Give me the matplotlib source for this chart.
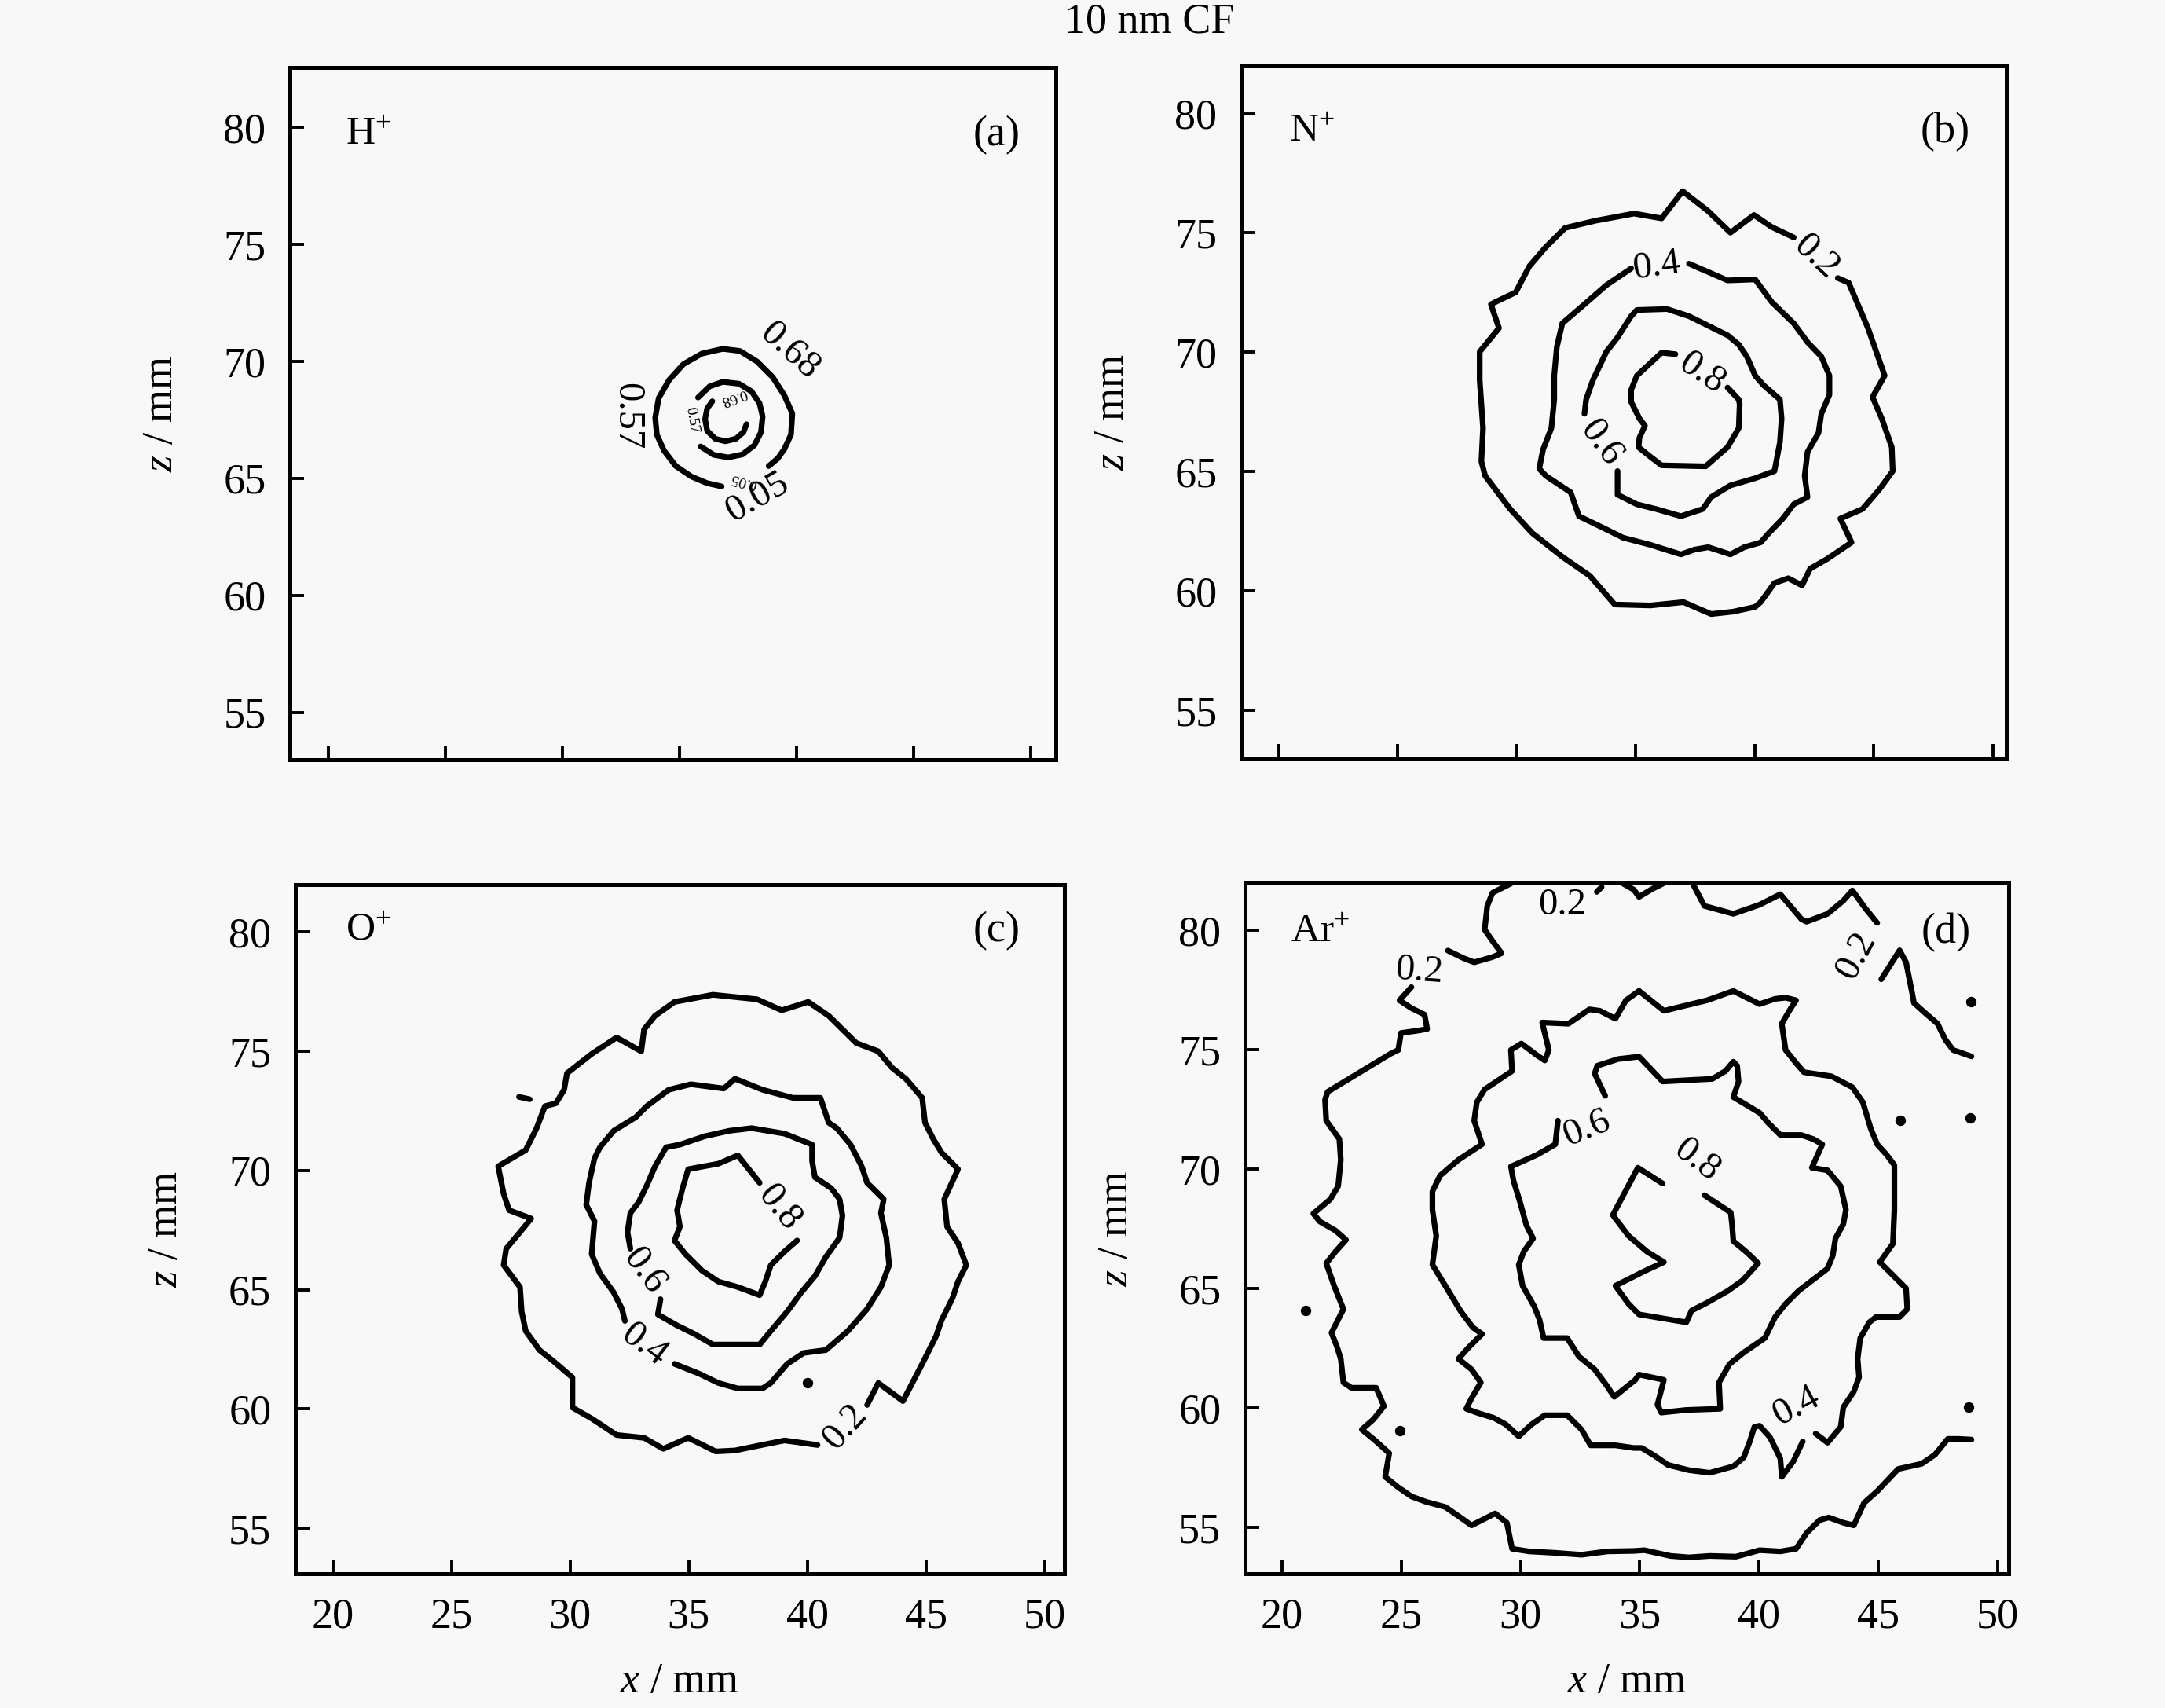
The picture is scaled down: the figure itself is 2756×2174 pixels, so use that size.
"""
10 nm CF ion distribution contours: H+, N+, O+, Ar+
Contour traces digitised from the original figure (x, z in mm).
"""
import matplotlib
matplotlib.use("Agg")
import matplotlib.pyplot as plt
import numpy as np

plt.rcParams.update({
    "font.family": ["Liberation Serif", "DejaVu Serif"],
    "mathtext.fontset": "custom",
    "mathtext.rm": "Liberation Serif",
    "mathtext.it": "Liberation Serif:italic",
    "font.size": 19.5,
    "axes.linewidth": 1.8,
    "figure.facecolor": "#f8f8f8",
    "axes.facecolor": "#f8f8f8",
})

X_TICKS = [20, 25, 30, 35, 40, 45, 50]
Z_TICKS = [55, 60, 65, 70, 75, 80]

# ---------------- (a) H+ ----------------
H_057 = [(36.81, 64.65), (36.19, 64.79), (35.52, 65.07), (34.85, 65.52), (34.34, 66.19),
         (34.04, 66.86), (33.97, 67.59), (34.12, 68.43), (34.57, 69.21), (35.18, 69.88),
         (35.97, 70.33), (36.86, 70.53), (37.59, 70.44), (38.32, 69.99), (38.99, 69.32),
         (39.49, 68.54), (39.83, 67.76), (39.77, 66.86), (39.49, 66.25), (39.21, 65.85),
         (38.82, 65.52)]
H_068 = [(35.80, 68.45), (36.30, 68.93), (36.86, 69.12), (37.55, 69.04), (38.09, 68.71),
         (38.43, 68.20), (38.56, 67.64), (38.49, 66.97), (38.21, 66.41), (37.70, 66.02),
         (37.09, 65.89), (36.47, 66.00), (35.91, 66.36)]
H_INNER = [(36.41, 68.29), (36.19, 67.98), (36.10, 67.53), (36.19, 67.03), (36.53, 66.69),
           (36.97, 66.58), (37.42, 66.69), (37.74, 66.97), (37.87, 67.31)]
H_LABELS = [("0.57", 32.78, 67.64, -90, 17.5), ("0.68", 39.72, 70.44, -42, 17.5),
            ("0.05", 38.32, 64.18, 30, 17.5), ("0.05", 37.76, 64.90, 165, 7),
            ("0.68", 37.31, 68.48, -160, 7), ("0.57", 35.52, 67.48, -80, 7)]

# ---------------- (b) N+ ----------------
N_02 = [(43.48, 73.11), (43.94, 72.91), (44.75, 71.01), (45.45, 69.02), (44.94, 68.12),
        (45.33, 67.22), (45.75, 66.02), (45.79, 65.02), (45.21, 64.23), (44.52, 63.43),
        (43.59, 63.03), (44.06, 62.03), (43.02, 61.33), (42.32, 60.93), (41.98, 60.23),
        (41.40, 60.53), (40.82, 60.33), (40.24, 59.53), (40.01, 59.33), (39.08, 59.13),
        (38.16, 59.03), (37.46, 59.33), (37.00, 59.53), (35.61, 59.39), (34.11, 59.43),
        (33.07, 60.63), (31.91, 61.43), (30.64, 62.43), (29.72, 63.43), (28.67, 64.82),
        (28.51, 65.42), (28.58, 66.82), (28.44, 68.82), (28.44, 70.02), (29.25, 71.01),
        (28.91, 72.01), (29.95, 72.51), (30.53, 73.61), (31.22, 74.41), (32.03, 75.21),
        (33.30, 75.51), (34.92, 75.81), (36.08, 75.61), (36.96, 76.75), (38.04, 75.91),
        (38.97, 75.01), (39.96, 75.75), (40.70, 75.25), (41.63, 74.81)]
N_04 = [(37.23, 73.71), (38.85, 73.01), (40.01, 73.05), (40.70, 72.11), (41.63, 71.21),
        (42.21, 70.42), (42.79, 69.82), (43.13, 69.02), (43.13, 68.22), (42.79, 67.42),
        (42.67, 66.62), (42.21, 65.82), (42.09, 64.82), (42.21, 63.93), (41.63, 63.63),
        (41.17, 63.03), (40.59, 62.43), (40.24, 62.03), (39.55, 61.83), (38.97, 61.53),
        (38.04, 61.83), (37.46, 61.73), (36.89, 61.53), (35.61, 61.93), (34.46, 62.23),
        (33.65, 62.63), (32.61, 63.13), (32.26, 64.13), (31.22, 64.82), (30.94, 65.12),
        (31.10, 65.92), (31.45, 66.82), (31.57, 68.02), (31.57, 69.02), (31.68, 70.22),
        (31.91, 71.21), (32.84, 72.01), (33.76, 72.81), (34.80, 73.51)]
N_06 = [(32.84, 67.42), (32.91, 68.02), (33.19, 68.82), (33.76, 70.02), (34.23, 70.62),
        (34.80, 71.51), (35.04, 71.77), (36.31, 71.81), (37.23, 71.51), (38.04, 71.11),
        (38.85, 70.71), (39.32, 70.32), (39.66, 69.82), (40.01, 69.02), (40.36, 68.62),
        (41.05, 68.02), (41.12, 67.22), (41.05, 66.22), (40.82, 65.02), (40.01, 64.72),
        (38.97, 64.42), (38.16, 63.93), (37.81, 63.43), (36.89, 63.13), (35.85, 63.43),
        (35.04, 63.63), (34.23, 64.03), (34.23, 65.02)]
N_08 = [(36.66, 69.92), (36.08, 69.98), (35.04, 69.02), (34.80, 68.42), (34.80, 67.92),
        (35.15, 67.22), (35.38, 66.92), (35.15, 66.42), (35.11, 66.02), (35.61, 65.62),
        (36.08, 65.26), (37.93, 65.22), (38.16, 65.42), (38.85, 66.02), (39.32, 66.82),
        (39.36, 67.82), (39.32, 68.02), (38.85, 68.52)]
N_LABELS = [("0.2", 42.55, 74.01, -43, 17.5), ("0.4", 35.85, 73.61, 8, 17.5),
            ("0.6", 33.53, 66.22, -54, 17.5), ("0.8", 37.77, 69.12, -34, 17.5)]

# ---------------- (c) O+ ----------------
O_02 = [(42.52, 60.17), (42.99, 61.09), (44.03, 60.33), (44.84, 61.89), (45.42, 63.04),
        (45.66, 63.73), (46.12, 64.65), (46.35, 65.34), (46.70, 66.03), (46.35, 66.95),
        (45.89, 67.64), (45.77, 68.79), (46.35, 70.05), (45.66, 70.74), (45.31, 71.31),
        (44.96, 72.00), (44.84, 73.04), (44.15, 73.84), (43.57, 74.30), (42.99, 74.99),
        (42.06, 75.34), (40.90, 76.48), (40.04, 77.06), (38.92, 76.71), (37.88, 77.17),
        (36.02, 77.36), (34.40, 77.06), (33.58, 76.48), (33.12, 75.91), (33.00, 74.99),
        (31.96, 75.57), (30.91, 74.88), (29.87, 74.07), (29.75, 73.38), (29.40, 72.81),
        (28.94, 72.69), (28.59, 71.77), (28.13, 70.85), (26.97, 70.17), (27.20, 69.02),
        (27.43, 68.33), (28.36, 67.98), (27.89, 67.41), (27.31, 66.72), (27.20, 66.03),
        (27.89, 65.11), (27.96, 64.08), (28.13, 63.27), (28.71, 62.47), (29.29, 62.01),
        (30.10, 61.32), (30.10, 60.06), (30.91, 59.60), (31.96, 58.91), (33.12, 58.79),
        (33.93, 58.33), (34.98, 58.79), (36.14, 58.22), (36.95, 58.26), (37.88, 58.45),
        (39.04, 58.68), (40.43, 58.49)]
O_04 = [(34.40, 61.89), (35.44, 61.48), (36.25, 61.09), (37.07, 60.86), (38.11, 60.86),
        (38.46, 61.09), (39.15, 61.89), (39.85, 62.35), (40.78, 62.47), (41.71, 63.27),
        (42.52, 64.19), (43.10, 65.11), (43.45, 66.03), (43.33, 67.18), (43.10, 68.21),
        (43.22, 68.79), (42.52, 69.48), (42.29, 70.17), (41.82, 71.08), (41.24, 71.77),
        (40.90, 72.00), (40.55, 73.04), (39.39, 73.04), (38.11, 73.38), (36.95, 73.84),
        (36.48, 73.43), (35.09, 73.61), (34.16, 73.38), (33.23, 72.69), (32.77, 72.23),
        (31.84, 71.66), (31.26, 70.97), (31.03, 70.51), (30.80, 69.48), (30.68, 68.56),
        (31.03, 67.87), (30.91, 66.49), (31.26, 65.68), (31.84, 64.88), (32.19, 64.19),
        (32.31, 63.69)]
O_06 = [(33.81, 64.60), (33.70, 63.96), (34.51, 63.50), (35.21, 63.16), (36.02, 62.70),
        (37.07, 62.70), (37.99, 62.70), (38.46, 63.27), (39.15, 64.08), (39.74, 64.88),
        (40.32, 65.57), (40.78, 66.37), (41.36, 67.18), (41.48, 68.10), (41.36, 68.79),
        (41.01, 69.25), (40.32, 69.71), (40.20, 70.40), (40.20, 71.08), (39.04, 71.54),
        (37.65, 71.77), (36.72, 71.66), (35.67, 71.43), (34.63, 71.08), (34.05, 70.97),
        (33.58, 70.17), (33.23, 69.36), (32.89, 68.67), (32.54, 68.21), (32.42, 67.41),
        (32.54, 66.72)]
O_08 = [(37.99, 69.48), (37.07, 70.63), (36.25, 70.28), (34.98, 70.05), (34.74, 69.25),
        (34.51, 68.33), (34.63, 67.64), (34.40, 67.06), (34.86, 66.49), (35.56, 65.80),
        (36.25, 65.34), (37.07, 65.11), (37.99, 64.77), (38.23, 65.34), (38.46, 66.03),
        (39.04, 66.60), (39.57, 67.06)]
O_BLOB = [(27.85, 73.08), (28.30, 72.98)]
O_DOTS = [(40.01, 61.09)]
O_LABELS = [("0.8", 38.81, 68.44, -51, 17.5), ("0.6", 33.12, 65.80, -54, 17.5),
            ("0.4", 33.12, 62.70, -37, 17.5), ("0.2", 41.59, 59.25, 48, 17.5)]

# ---------------- (d) Ar+ ----------------
AR_02_A = [(29.60, 81.95), (28.83, 81.56), (28.61, 81.01), (28.50, 80.02), (28.88, 79.47),
           (29.21, 79.03), (28.83, 78.87), (28.06, 78.65), (27.62, 78.82), (26.96, 79.14)]
AR_02_B = [(25.43, 77.61), (24.93, 77.06), (25.43, 76.73), (25.98, 76.46), (26.09, 75.86),
           (25.76, 75.80), (24.99, 75.69), (24.88, 74.98), (24.55, 74.82), (21.92, 73.23),
           (21.81, 72.90), (21.86, 72.02), (22.41, 71.25), (22.47, 70.38), (22.36, 69.28),
           (22.03, 68.73), (21.32, 68.13), (21.59, 67.80), (22.25, 67.42), (22.69, 67.03),
           (22.25, 66.54), (21.86, 66.05), (22.19, 65.11), (22.58, 64.13), (22.08, 63.14),
           (22.30, 62.59), (22.47, 62.05), (22.58, 61.06), (22.91, 60.84), (23.95, 60.84),
           (24.28, 60.07), (23.84, 59.52), (23.35, 59.09), (23.89, 58.65), (24.50, 58.10),
           (24.33, 57.11), (24.88, 56.67), (25.43, 56.29), (26.03, 56.07), (26.85, 55.85),
           (27.40, 55.47), (27.95, 55.08), (28.94, 55.58), (29.43, 55.19), (29.65, 54.10),
           (30.36, 53.99), (31.46, 53.93), (32.56, 53.85), (33.65, 53.99), (34.75, 54.01),
           (35.19, 54.04), (36.29, 53.80), (37.06, 53.74), (37.93, 53.80), (39.03, 53.77),
           (40.02, 54.04), (40.89, 53.99), (41.55, 54.10), (41.99, 54.76), (42.54, 55.30),
           (42.92, 55.41), (43.53, 55.19), (43.97, 55.08), (44.40, 56.02), (44.95, 56.51),
           (45.83, 57.44), (46.82, 57.66), (47.37, 58.04), (47.91, 58.70), (48.35, 58.70),
           (48.90, 58.67)]
AR_02_C = [(34.31, 81.94), (34.75, 81.69), (34.97, 81.39), (35.52, 81.72), (35.96, 81.94)]
AR_02_D = [(37.22, 81.94), (37.71, 81.01), (38.92, 80.68), (40.02, 81.06), (40.89, 81.50),
           (41.77, 80.46), (41.99, 80.35), (42.87, 80.68), (43.53, 81.23), (43.91, 81.66),
           (44.46, 80.90), (44.95, 80.30)]
AR_02_E = [(45.12, 77.94), (45.61, 78.71), (45.89, 79.15), (46.16, 78.65), (46.43, 77.28),
           (46.49, 76.95), (46.98, 76.51), (47.48, 76.08), (47.80, 75.42), (48.13, 74.98),
           (48.90, 74.71)]
AR_02_F = [(33.20, 81.60), (33.40, 81.80)]
AR_04_A = [(34.97, 77.45), (34.42, 77.06), (33.98, 76.29), (33.33, 76.62), (32.89, 76.68),
           (32.01, 76.08), (30.91, 76.13), (31.19, 74.98), (31.02, 74.54), (30.69, 74.76),
           (30.04, 75.25), (29.60, 74.98), (29.65, 74.10), (28.50, 73.33), (28.17, 72.79),
           (28.06, 72.02), (28.39, 71.03), (27.40, 70.38), (26.63, 69.72), (26.31, 69.06),
           (26.31, 68.29), (26.47, 67.20), (26.31, 65.99), (26.85, 65.11), (27.51, 64.02),
           (28.01, 63.36), (28.39, 63.09), (27.84, 62.54), (27.40, 62.05), (27.95, 61.61),
           (28.34, 61.06), (27.95, 60.40), (27.73, 59.96), (28.17, 59.80), (28.88, 59.58),
           (29.38, 59.31), (29.93, 58.81), (30.47, 59.31), (31.02, 59.69), (31.96, 59.69),
           (32.56, 59.09), (32.94, 58.43), (33.98, 58.43), (34.75, 58.32), (35.08, 58.32),
           (35.63, 57.99), (36.18, 57.61), (37.06, 57.39), (37.93, 57.28), (38.92, 57.55),
           (39.36, 57.93), (39.63, 58.65), (39.80, 59.20), (40.02, 59.25), (40.46, 58.76),
           (40.89, 57.88), (40.95, 57.11), (41.44, 57.77), (41.83, 58.59)]
AR_04_B = [(42.37, 58.92), (42.87, 58.54), (43.42, 59.20), (43.53, 60.02), (43.97, 60.68),
           (44.19, 61.28), (44.13, 62.05), (44.24, 62.92), (44.62, 63.58), (44.90, 63.80),
           (45.89, 63.80), (46.21, 64.13), (46.16, 65.00), (45.83, 65.33), (45.06, 66.10),
           (45.61, 66.87), (45.67, 68.29), (45.67, 70.16), (45.34, 70.60), (44.95, 71.03),
           (44.68, 71.69), (44.35, 72.79), (43.91, 73.42), (43.03, 73.88), (41.88, 74.05),
           (41.55, 74.43), (41.11, 74.98), (40.95, 76.08), (41.33, 76.73), (41.55, 77.06),
           (41.11, 77.17), (40.67, 77.12), (40.02, 76.90), (38.92, 77.45), (37.82, 77.06),
           (36.01, 76.62), (34.97, 77.45)]
AR_06 = [(33.55, 73.06), (33.11, 73.99), (33.22, 74.32), (34.09, 74.60), (34.97, 74.70),
         (35.96, 73.66), (37.06, 73.72), (38.04, 73.77), (38.59, 74.10), (38.92, 74.49),
         (39.08, 74.32), (39.14, 73.66), (38.92, 73.01), (40.02, 72.35), (40.40, 71.91),
         (40.89, 71.42), (41.77, 71.42), (42.27, 71.25), (42.65, 71.03), (42.21, 70.05),
         (42.87, 69.94), (43.42, 69.28), (43.64, 68.29), (43.53, 67.69), (43.20, 67.09),
         (43.09, 66.38), (42.87, 65.83), (41.66, 64.90), (41.11, 64.35), (40.67, 63.80),
         (40.24, 62.92), (39.36, 62.32), (38.76, 61.83), (38.32, 61.06), (38.37, 59.96),
         (36.95, 59.91), (35.90, 59.80), (35.74, 60.13), (36.01, 61.17), (34.97, 61.39),
         (34.81, 61.17), (33.93, 60.46), (33.60, 60.95), (33.11, 61.61), (32.45, 62.15),
         (31.96, 62.92), (30.97, 62.92), (30.80, 63.69), (30.58, 64.24), (30.09, 65.11),
         (29.93, 65.99), (30.14, 66.54), (30.53, 67.09), (30.25, 67.64), (29.98, 68.62),
         (29.71, 69.50), (29.60, 70.10), (30.69, 70.59), (31.46, 71.03), (31.57, 72.02)]
AR_08 = [(35.96, 69.39), (34.92, 70.05), (33.87, 68.07), (34.53, 67.20), (35.30, 66.54),
         (36.01, 66.10), (35.19, 65.72), (33.98, 65.11), (34.53, 64.35), (34.97, 63.91),
         (36.95, 63.58), (37.17, 64.07), (37.82, 64.40), (38.70, 64.90), (39.30, 65.33),
         (39.96, 66.05), (39.52, 66.48), (38.92, 66.98), (38.87, 67.64), (38.81, 68.18),
         (37.71, 68.90)]
AR_DOTS = [(48.88, 77.01), (45.92, 72.02), (48.85, 72.13), (20.99, 64.07),
           (24.94, 59.03), (48.79, 60.02)]
AR_LABELS = [("0.2", 25.76, 78.27, -4, 17.5), ("0.2", 31.74, 81.06, 0, 17.5),
             ("0.2", 44.08, 78.93, 62, 17.5), ("0.6", 32.78, 71.69, 22, 17.5),
             ("0.8", 37.38, 70.38, -37, 17.5), ("0.4", 41.55, 60.07, 28, 17.5)]


def draw_panel(ax, lines, dots, labels, species, letter, xlim, zlim, species_y, show_x):
    for pts in lines:
        xs, zs = np.array(pts).T
        ax.plot(xs, zs, color="black", lw=2.6, solid_joinstyle="round",
                solid_capstyle="round")
    if dots:
        dx, dz = np.array(dots).T
        ax.plot(dx, dz, "o", color="black", ms=3.8)
    for txt, x, z, rot, size in labels:
        ax.text(x, z, txt, rotation=rot, rotation_mode="anchor",
                ha="center", va="center", fontsize=size)

    ax.text(species[1], species_y, species[0], transform=ax.transAxes,
            ha="left", va="center", fontsize=18.5)
    ax.text(letter[1], species_y, letter[0], transform=ax.transAxes,
            ha="center", va="center", fontsize=19.5)

    ax.set_xlim(*xlim)
    ax.set_ylim(*zlim)
    ax.set_xticks(X_TICKS)
    ax.set_yticks(Z_TICKS)
    ax.tick_params(direction="in", length=6.5, width=1.4, pad=11,
                   top=False, right=False)
    ax.set_ylabel(r"$z$ / mm")
    ax.yaxis.set_label_coords(-0.142, 0.5)
    if show_x:
        ax.set_xlabel(r"$x$ / mm")
        ax.xaxis.set_label_coords(0.5, -0.128)
    else:
        ax.tick_params(labelbottom=False)


fig = plt.figure(figsize=(13.78, 10.87), dpi=200)

ax_a = fig.add_axes([0.1339, 0.5552, 0.3538, 0.4052])
ax_b = fig.add_axes([0.5733, 0.5561, 0.3534, 0.4052])
ax_c = fig.add_axes([0.1364, 0.0787, 0.3552, 0.4034])
ax_d = fig.add_axes([0.5751, 0.0787, 0.3527, 0.4043])

draw_panel(ax_a, [H_057, H_068, H_INNER], [], H_LABELS,
           (r"H$^{+}$", 0.073), ("(a)", 0.923), (18.36, 51.09), (52.97, 82.55), 0.903, False)
draw_panel(ax_b, [N_02, N_04, N_06, N_08], [], N_LABELS,
           (r"N$^{+}$", 0.063), ("(b)", 0.920), (18.42, 50.56), (52.99, 81.99), 0.905, False)
draw_panel(ax_c, [O_02, O_04, O_06, O_08, O_BLOB], O_DOTS, O_LABELS,
           (r"O$^{+}$", 0.065), ("(c)", 0.912), (18.42, 50.83), (53.10, 81.98), 0.933, True)
draw_panel(ax_d, [AR_02_A, AR_02_B, AR_02_C, AR_02_D, AR_02_E, AR_02_F,
                  AR_04_A, AR_04_B, AR_06, AR_08], AR_DOTS, AR_LABELS,
           (r"Ar$^{+}$", 0.060), ("(d)", 0.918), (18.46, 50.46), (53.06, 81.97), 0.928, True)

fig.text(0.531, 0.987, "10 nm CF", ha="center", va="center", fontsize=19.5)

fig.savefig("out.png", dpi=200, facecolor=fig.get_facecolor())
